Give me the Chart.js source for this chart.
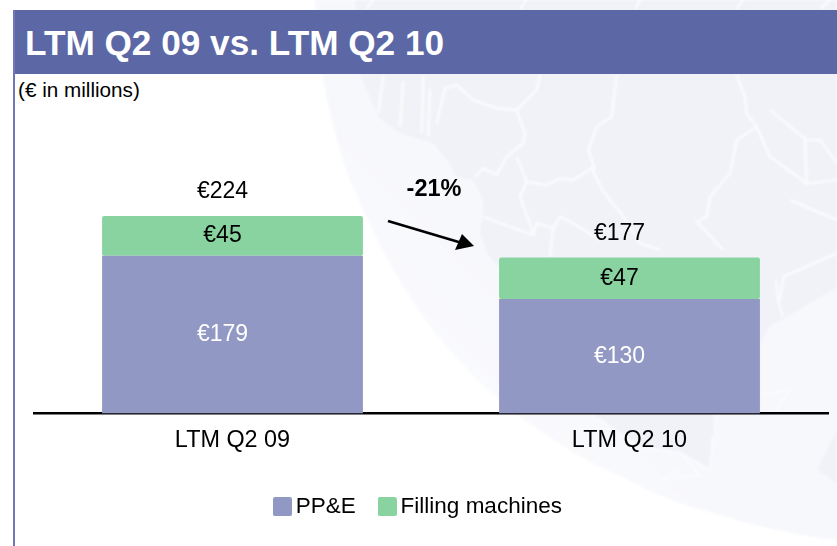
<!DOCTYPE html>
<html><head><meta charset="utf-8">
<script src="https://cdn.jsdelivr.net/npm/chart.js@4"></script>
<style>
html,body{margin:0;padding:0;background:#fff;width:837px;height:546px;overflow:hidden;font-family:"Liberation Sans",Arial,sans-serif}
#bg{position:absolute;left:0;top:0;filter:blur(0.9px)}
#band{position:absolute;left:13px;top:10px;width:824px;height:64px;background:#5c67a6;color:#fff;font-weight:bold;font-size:35.2px;line-height:65px;padding-left:12px;box-sizing:border-box;white-space:nowrap}
#rule{position:absolute;left:13px;top:10px;width:1.5px;height:536px;background:#7076b8}
#unit{position:absolute;left:18px;top:78px;font-size:20.7px;line-height:24px;color:#000;white-space:nowrap}
canvas{position:absolute;left:0;top:0}
</style></head><body>
<svg id="bg" width="837" height="546" viewBox="0 0 837 546">
<defs><linearGradient id="sea" x1="0.05" y1="0.75" x2="0.35" y2="0.45"><stop offset="0" stop-color="#fcfcfe"/><stop offset="1" stop-color="#f7f8fc"/></linearGradient></defs>
<path d="M315,0 C318,40 322,74 322,74 C330,115 338,150 350,180 C368,222 385,258 407,293 C430,330 470,378 520,417 C560,446 590,463 620,476 C650,492 680,505 713,513 C750,524 790,535 837,540 L837,0 Z" fill="url(#sea)"/>
<path d="M355,0 L837,0 L837,287 L785,318 L770,325 L760,345 L600,345 L525,300 L507,277 L487,253 L480,233 L483,213 L483,200 L473,180 L457,177 L447,160 L433,143 L400,133 L378,117 L360,74 Z" fill="#f0f2f7"/>
<path d="M597,418 L640,447 L680,453 L710,470 L713,437 L714,413 L760,413 L760,300 L600,300 Z M837,430 L817,470 L837,483 Z" fill="#f0f2f7"/>
<g transform="translate(340,0) scale(0.33333)" fill="none" stroke="#fafbfd" stroke-width="8" stroke-linejoin="round">
<path d="M600,225 L590,270 530,330 470,325 400,300 350,255 315,265 290,370"/>
<path d="M530,330 L555,400 550,430 500,470 470,525 430,505 405,530"/>
<path d="M530,470 L560,545 620,555 660,535 700,540 755,505 790,575 850,650 900,730 960,750"/>
<path d="M830,225 L815,350 770,380 745,450 765,510"/>
<path d="M560,545 L540,590 580,700"/>
<path d="M430,650 L510,680 580,705 590,670 640,685 660,650 700,670 780,720"/>
<path d="M640,685 L630,770"/>
<path d="M1190,225 L1215,290 1220,340 1250,380 1190,420 1170,520 1110,590 1100,650 1070,665 1150,750"/>
<path d="M1250,380 L1290,470 1400,550 1491,540"/>
<path d="M1400,550 L1395,420 1440,420 1491,490"/>
<path d="M1290,330 L1400,420"/>
<path d="M1350,600 L1491,660"/>
<path d="M1491,760 L1330,830 1320,900"/>
<path d="M250,225 L245,400"/><path d="M190,245 L180,380"/><path d="M130,225 L115,340"/><path d="M270,265 L265,410"/>
<path d="M100,0 L80,27"/><path d="M560,0 L540,27"/><path d="M900,0 L885,27"/><path d="M1210,0 L1190,27"/><path d="M1440,27 L1470,0"/>
</g>
<g fill="none" stroke="#fafbfd" stroke-width="2.5">
<path d="M783,317 L778,300 L776,280"/>
<path d="M760,395 L790,390 L775,413"/>
<path d="M680,453 L700,475 L660,480 L680,470"/>
<path d="M597,418 L640,447 L680,453 L710,470 L713,437"/>
</g>
</svg>
<div id="band">LTM Q2 09 vs. LTM Q2 10</div>
<div id="rule"></div>
<div id="unit">(€ in millions)</div>
<canvas id="c" width="837" height="546"></canvas>
<script>
const categories = ["LTM Q2 09", "LTM Q2 10"];
const ppeValues = [179, 130];
const fillingValues = [45, 47];
const totals = [224, 177];
const changeLabel = "-21%";
const FONT = '"Liberation Sans", Arial, sans-serif';
const LABEL_SHIFT = -10;
const PPE_COLOR = "#9298c4";
const FILL_COLOR = "#88d3a0";

function swatch(color) {
  const c = document.createElement("canvas");
  c.width = 19; c.height = 19;
  const g = c.getContext("2d");
  g.fillStyle = color;
  g.beginPath();
  g.roundRect(0, 0, 19, 19, 2);
  g.fill();
  return c;
}
const swatches = [swatch(PPE_COLOR), swatch(FILL_COLOR)];

const annotate = {
  id: "annotate",
  afterLayout(chart) {
    chart.legend.left -= 10;
    chart.legend.right -= 10;
  },
  afterDatasetsDraw(chart) {
    const { ctx } = chart;
    const y = chart.scales.y;
    ctx.save();
    ctx.textAlign = "center";
    ctx.textBaseline = "middle";
    ctx.font = "23px " + FONT;
    chart.data.datasets.forEach((ds, di) => {
      const meta = chart.getDatasetMeta(di);
      meta.data.forEach((bar, i) => {
        ctx.fillStyle = di === 0 ? "#ffffff" : "#000000";
        ctx.fillText("€" + ds.data[i], bar.x + LABEL_SHIFT, (bar.y + bar.base) / 2);
      });
    });
    const meta = chart.getDatasetMeta(0);
    totals.forEach((t, i) => {
      ctx.fillStyle = "#000";
      ctx.fillText("€" + t, meta.data[i].x + LABEL_SHIFT, y.getPixelForValue(t) - 24);
    });
    ctx.font = "bold 23.5px " + FONT;
    ctx.fillText(changeLabel, 434, 190);
    ctx.strokeStyle = "#000";
    ctx.lineWidth = 2.5;
    ctx.beginPath();
    ctx.moveTo(388, 221);
    ctx.lineTo(462, 243);
    ctx.stroke();
    ctx.beginPath();
    ctx.moveTo(474, 246);
    ctx.lineTo(462, 234);
    ctx.lineTo(455, 250);
    ctx.closePath();
    ctx.fill();
    ctx.restore();
  }
};

new Chart(document.getElementById("c"), {
  type: "bar",
  plugins: [annotate],
  data: {
    labels: categories,
    datasets: [
      { label: "PP&E", data: ppeValues, backgroundColor: PPE_COLOR, borderRadius: 0, borderSkipped: false },
      { label: "Filling machines", data: fillingValues, backgroundColor: FILL_COLOR, borderRadius: 2, borderSkipped: false }
    ]
  },
  options: {
    responsive: false,
    animation: false,
    devicePixelRatio: 1,
    barPercentage: 1,
    categoryPercentage: 0.657,
    layout: { padding: { left: 34, right: 9, top: 149, bottom: 18 } },
    plugins: {
      tooltip: { enabled: false },
      title: { display: false },
      legend: {
        display: true,
        position: "bottom",
        labels: {
          color: "#000",
          font: { family: FONT, size: 22.5 },
          usePointStyle: true,
          pointStyleWidth: 4.5,
          boxHeight: 19,
          padding: 29,
          generateLabels(chart) {
            return Chart.defaults.plugins.legend.labels.generateLabels(chart).map((it, i) => {
              it.pointStyle = swatches[i];
              return it;
            });
          }
        }
      }
    },
    scales: {
      x: {
        stacked: true,
        grid: { display: false, drawTicks: false },
        border: { display: true, color: "#000", width: 2.5 },
        ticks: { color: "#000", font: { family: FONT, size: 23.4 }, padding: 13, maxRotation: 0 },
        afterFit(s) { s.height = 53; }
      },
      y: { stacked: true, display: false, min: 0, max: 300 }
    }
  }
});
</script>
</body></html>
